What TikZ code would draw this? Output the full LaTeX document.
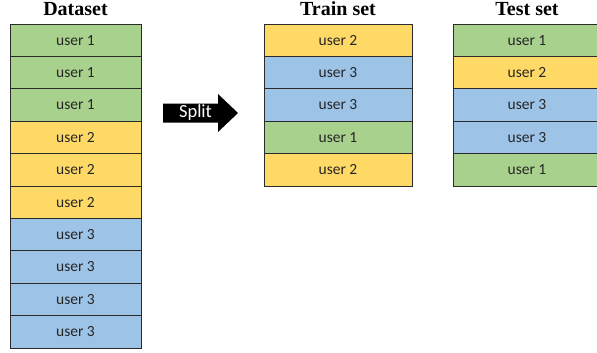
\documentclass[tikz,border=0pt]{standalone}
\usepackage{fontspec}
\setmainfont{Liberation Serif}
\newfontfamily\calfont{Carlito}
\definecolor{cg}{HTML}{A9D18E}
\definecolor{cy}{HTML}{FFD966}
\definecolor{cb}{HTML}{9DC3E6}
\definecolor{edge}{HTML}{2B2B2B}
\begin{document}
\begin{tikzpicture}[x=1pt,y=-1pt,
  cell/.style={draw=edge,line width=0.9pt,inner sep=0pt,outer sep=0pt,
    minimum height=32.4pt,font=\calfont\fontsize{15.5}{18}\selectfont,text=black!85},
  dcell/.style={cell,minimum width=131pt},
  tcell/.style={cell,minimum width=148pt},
  title/.style={anchor=base,font=\bfseries\fontsize{20}{22}\selectfont}]
\useasboundingbox (0,0) rectangle (597,353);
% titles
\node[title] (tD) at (75.5,16) {Dataset};
\node[title] (tT) at (338,16) {Train set};
\node[title] (tS) at (527,16) {Test set};
% dataset
\foreach \c/\t [count=\i from 0] in {cg/user 1,cg/user 1,cg/user 1,cy/user 2,cy/user 2,cy/user 2,cb/user 3,cb/user 3,cb/user 3,cb/user 3}{
  \node[dcell,fill=\c] (d\i) at (75.5,{24+16.2+32.4*\i}) {\t};
}
% train
\foreach \c/\t [count=\i from 0] in {cy/user 2,cb/user 3,cb/user 3,cg/user 1,cy/user 2}{
  \node[tcell,fill=\c] (r\i) at (338,{24+16.2+32.4*\i}) {\t};
}
% test
\foreach \c/\t [count=\i from 0] in {cg/user 1,cy/user 2,cb/user 3,cb/user 3,cg/user 1}{
  \node[tcell,fill=\c] (s\i) at (527,{24+16.2+32.4*\i}) {\t};
}
% split arrow
\fill[black] (163,103.5) -- (218,103.5) -- (218,94) -- (238,113) -- (218,132) -- (218,122.5) -- (163,122.5) -- cycle;
\node[text=white,font=\calfont\fontsize{18.5}{20}\selectfont,inner sep=0pt] (split) at (195.5,113) {Split};
\end{tikzpicture}
\end{document}
